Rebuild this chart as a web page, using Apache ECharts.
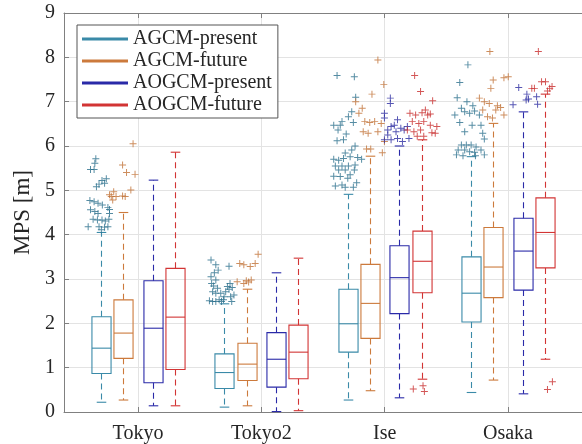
<!DOCTYPE html>
<html><head><meta charset="utf-8">
<script src="https://cdn.jsdelivr.net/npm/echarts@6/dist/echarts.min.js"></script>
<style>html,body{margin:0;padding:0;background:#fff}#c{width:582px;height:444px}</style>
</head><body><div id="c"></div>
<script>
const categories = ['Tokyo', 'Tokyo2', 'Ise', 'Osaka'];
const seriesNames = ['AGCM-present', 'AGCM-future', 'AOGCM-present', 'AOGCM-future'];
const yTicks = [0, 1, 2, 3, 4, 5, 6, 7, 8, 9];
const boxOffsets = [-0.30, -0.12, 0.12, 0.30];

// box statistics per category: [lower whisker, Q1, median, Q3, upper whisker]
const agcmPresent  = [[0.22, 0.87, 1.44, 2.15, 4.05], [0.11, 0.53, 0.89, 1.31, 2.44], [0.27, 1.35, 1.99, 2.77, 4.91], [0.44, 2.03, 2.68, 3.50, 5.76]];
const agcmFuture   = [[0.27, 1.21, 1.78, 2.53, 4.50], [0.14, 0.71, 1.08, 1.55, 2.77], [0.48, 1.66, 2.45, 3.33, 5.77], [0.72, 2.58, 3.27, 4.16, 6.51]];
const aogcmPresent = [[0.14, 0.66, 1.89, 2.96, 5.23], [0.01, 0.56, 1.19, 1.79, 3.14], [0.32, 2.22, 3.03, 3.75, 6.00], [0.41, 2.75, 3.63, 4.37, 6.77]];
const aogcmFuture  = [[0.14, 0.96, 2.14, 3.24, 5.86], [0.03, 0.75, 1.35, 1.96, 3.47], [0.74, 2.69, 3.40, 4.08, 6.14], [1.19, 3.25, 4.05, 4.83, 7.17]];

// outliers: [x position (category units, jittered), MPS]
const agcmPresentOut = [
  [0.658,5.71],[0.650,5.61],[0.615,5.47],[0.644,5.47],[0.708,5.22],[0.729,5.16],[0.684,5.14],[0.663,5.08],[0.743,5.26],
  [0.610,4.77],[0.644,4.74],[0.676,4.71],[0.711,4.67],[0.756,4.61],[0.769,4.57],[0.615,4.56],[0.650,4.52],[0.676,4.48],
  [0.769,4.48],[0.636,4.35],[0.671,4.33],[0.708,4.33],[0.735,4.31],[0.764,4.35],[0.596,4.18],[0.684,4.18],[0.729,4.17],
  [0.756,4.18],[0.703,4.11],
  [1.592,3.43],[1.631,3.32],[1.738,3.29],[1.650,3.20],[1.619,3.14],[1.592,3.05],[1.631,2.98],[1.597,2.90],
  [1.746,2.90],[1.613,2.84],[1.725,2.83],[1.764,2.81],[1.645,2.79],[1.738,2.77],[1.711,2.71],[1.605,2.71],[1.631,2.68],
  [1.671,2.68],[1.698,2.60],[1.751,2.60],[1.778,2.64],[1.693,2.53],[1.658,2.53],[1.579,2.51],[1.605,2.49],[1.631,2.49],
  [1.677,2.49],[1.760,2.49],
  [2.614,7.59],[2.754,7.56],[2.765,7.10],[2.733,6.77],[2.706,6.66],[2.654,6.55],[2.746,6.53],[2.587,6.47],[2.640,6.47],
  [2.688,6.27],[2.622,6.36],[2.666,6.14],[2.614,6.12],[2.760,6.00],[2.733,5.91],[2.680,5.84],[2.587,5.70],[2.627,5.68],
  [2.666,5.72],[2.720,5.76],[2.781,5.74],[2.813,5.70],[2.600,5.55],[2.654,5.55],[2.706,5.55],[2.760,5.57],[2.680,5.46],
  [2.627,5.46],[2.754,5.46],[2.720,5.35],[2.587,5.32],[2.640,5.31],[2.701,5.27],[2.773,5.17],[2.600,5.10],[2.654,5.12],
  [2.680,5.07],[2.746,5.07],
  [3.675,7.83],[3.609,7.43],[3.588,7.09],[3.667,7.00],[3.715,6.91],[3.622,6.85],[3.569,6.70],[3.649,6.77],[3.689,6.74],
  [3.729,6.79],[3.768,6.70],[3.609,6.53],[3.709,6.47],[3.781,6.47],[3.649,6.32],[3.795,6.29],[3.808,6.16],[3.622,6.02],
  [3.662,6.02],[3.701,6.02],[3.741,5.98],[3.596,5.91],[3.649,5.91],[3.689,5.87],[3.729,5.86],[3.781,5.91],[3.582,5.80],
  [3.635,5.78],[3.736,5.78],[3.808,5.80]
];
const agcmFutureOut = [
  [0.960,6.05],[0.875,5.57],[0.907,5.40],[0.976,5.36],[0.942,5.01],[0.803,4.97],[0.769,4.90],[0.822,4.86],[0.875,4.87],
  [0.896,4.86],[0.795,4.78],[0.783,4.86],
  [1.974,3.56],[1.950,3.35],[1.910,3.28],[1.858,3.32],[1.878,2.96],[1.897,2.93],[1.918,2.98],[1.858,2.90],[1.804,2.94],
  [1.825,3.35],
  [2.945,7.94],[2.993,7.39],[2.897,7.17],[2.765,7.00],[2.818,6.85],[2.791,6.74],[2.839,6.55],[2.879,6.53],[2.919,6.55],
  [2.972,6.51],[2.826,6.32],[2.866,6.29],[2.945,6.32],[2.998,6.10],[2.853,5.93],[2.887,5.93],[2.981,5.85],
  [3.853,8.13],[3.880,7.49],[3.967,7.54],[4.002,7.56],[3.861,7.30],[3.768,7.08],[3.808,7.00],[3.848,6.96],[3.914,6.91],
  [3.940,6.87],[3.795,6.81],[3.901,6.81],[3.967,6.70],[3.834,6.66],[3.874,6.63]
];
const aogcmPresentOut = [
  [3.046,7.08],[3.046,6.96],[2.998,6.74],[2.998,6.63],[3.104,6.59],[3.078,6.47],[3.052,6.44],[3.025,6.36],[3.131,6.40],
  [3.092,6.32],[3.158,6.36],[3.184,6.44],[2.998,6.14],[3.052,6.14],[3.104,6.17],[3.144,6.10],[3.197,6.17],[3.025,6.25],
  [4.087,7.32],[4.041,6.93],[4.153,7.17],[4.166,7.06],[4.147,7.04],[4.232,7.11],[4.240,6.94]
];
const aogcmFutureOut = [
  [3.243,7.59],[3.291,7.23],[3.389,7.02],[3.205,6.74],[3.251,6.70],[3.303,6.75],[3.330,6.81],[3.349,6.70],[3.370,6.72],
  [3.224,6.55],[3.277,6.51],[3.317,6.55],[3.423,6.44],[3.370,6.47],[3.184,6.36],[3.237,6.32],[3.291,6.36],[3.383,6.30],
  [3.410,6.29],[3.264,6.22],[3.317,6.22],
  [3.232,0.52],[3.311,0.59],[3.322,0.46],
  [4.246,8.13],[4.193,7.30],[4.214,7.30],[4.272,7.45],[4.304,7.45],[4.338,7.30],[4.357,7.34],[4.320,7.24],
  [4.320,0.51],[4.360,0.68]
];

const colors = ['#3a8aa8', '#cc7a3c', '#2a2aa8', '#d23434'];
const markerColors = ['#2a6f8c', '#c07035', '#2a2aa0', '#c82c2c'];
const stats = [agcmPresent, agcmFuture, aogcmPresent, aogcmFuture];
const outliers = [agcmPresentOut, agcmFutureOut, aogcmPresentOut, aogcmFutureOut];
const FONT = 'Liberation Serif';
const TXT = '#262626';
const plusPath = 'path://M4.3,0H5.7V4.3H10V5.7H5.7V10H4.3V5.7H0V4.3H4.3Z';

function renderBox(params, api) {
  const x = api.value(0);
  const pLow = api.coord([x, api.value(1)]);
  const pQ1 = api.coord([x, api.value(2)]);
  const pMed = api.coord([x, api.value(3)]);
  const pQ3 = api.coord([x, api.value(4)]);
  const pHigh = api.coord([x, api.value(5)]);
  const w = api.size([0.155, 0])[0];
  const cw = w / 2;
  const cx = Math.round(pLow[0]) + 0.5;
  const color = api.visual('color');
  const solid = { stroke: color, lineWidth: 1.1, fill: null };
  const dashed = { stroke: color, lineWidth: 1.1, fill: null, lineDash: [6, 4] };
  return {
    type: 'group',
    children: [
      { type: 'rect', shape: { x: cx - w / 2, y: pQ3[1], width: w, height: pQ1[1] - pQ3[1] }, style: solid },
      { type: 'line', shape: { x1: cx - w / 2, y1: pMed[1], x2: cx + w / 2, y2: pMed[1] }, style: solid },
      { type: 'line', shape: { x1: cx, y1: pQ3[1], x2: cx, y2: pHigh[1] }, style: dashed },
      { type: 'line', shape: { x1: cx, y1: pQ1[1], x2: cx, y2: pLow[1] }, style: dashed },
      { type: 'line', shape: { x1: cx - cw / 2, y1: pHigh[1], x2: cx + cw / 2, y2: pHigh[1] }, style: solid },
      { type: 'line', shape: { x1: cx - cw / 2, y1: pLow[1], x2: cx + cw / 2, y2: pLow[1] }, style: solid }
    ]
  };
}

const series = [];
stats.forEach((s, si) => {
  series.push({
    name: seriesNames[si],
    type: 'custom',
    renderItem: renderBox,
    itemStyle: { color: colors[si] },
    encode: { x: 0, y: [1, 2, 3, 4, 5] },
    data: s.map((b, ci) => [ci + 1 + boxOffsets[si]].concat(b)),
    z: 3
  });
});
outliers.forEach((o, si) => {
  series.push({
    name: seriesNames[si],
    type: 'scatter',
    symbol: plusPath,
    symbolSize: 7,
    itemStyle: { color: markerColors[si] },
    data: o,
    z: 4
  });
});

const chart = echarts.init(document.getElementById('c'));
chart.setOption({
  animation: false,
  backgroundColor: '#fff',
  grid: { left: 64, top: 13, width: 527, height: 399 },
  legend: {
    orient: 'vertical', left: 77, top: 25,
    data: seriesNames.map(n => ({ name: n, icon: 'rect' })),
    itemWidth: 46, itemHeight: 3, itemGap: 2,
    padding: [4, 6, 3, 5],
    borderColor: '#555', borderWidth: 1, backgroundColor: '#fff',
    textStyle: { fontFamily: FONT, fontSize: 20, color: TXT },
    selectedMode: false
  },
  xAxis: [{
    type: 'value', min: 0.4, max: 4.6,
    axisLine: { show: true, lineStyle: { color: '#808080' } },
    axisTick: { show: true, inside: true, length: 5, customValues: [1, 2, 3, 4], lineStyle: { color: '#808080' } },
    axisLabel: { customValues: [1, 2, 3, 4], formatter: v => categories[Math.round(v) - 1], fontFamily: FONT, fontSize: 20, color: TXT, margin: 12 },
    splitLine: { show: true, lineStyle: { color: '#e3e3e3' } }
  }, {
    type: 'value', min: 0.4, max: 4.6, position: 'top',
    axisLine: { show: true, lineStyle: { color: '#808080' } },
    axisTick: { show: true, inside: true, length: 5, customValues: [1, 2, 3, 4], lineStyle: { color: '#808080' } },
    axisLabel: { show: false },
    splitLine: { show: false }
  }],
  yAxis: {
    type: 'value', min: 0, max: 9, interval: 1,
    name: 'MPS [m]', nameLocation: 'middle', nameGap: 21,
    nameTextStyle: { fontFamily: FONT, fontSize: 23, color: TXT },
    axisLine: { show: true, lineStyle: { color: '#808080' } },
    axisTick: { show: true, inside: true, length: 5, lineStyle: { color: '#808080' } },
    axisLabel: { fontFamily: FONT, fontSize: 20, color: TXT, margin: 9, formatter: v => String(yTicks[Math.round(v)]) },
    splitLine: { show: true, lineStyle: { color: '#e3e3e3' } }
  },
  series: series
});
</script>
</body></html>
